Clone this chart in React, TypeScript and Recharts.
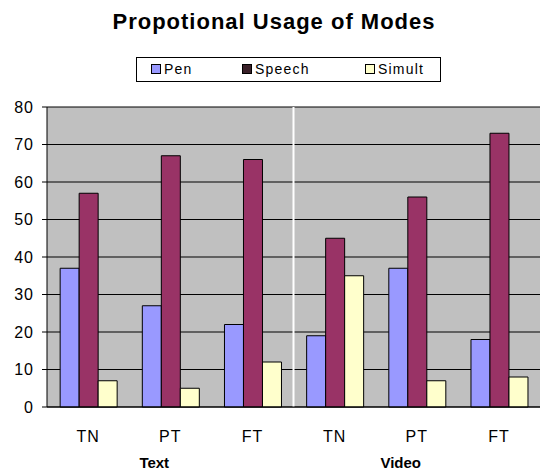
import { BarChart, Bar, XAxis, YAxis, CartesianGrid, ReferenceLine } from "recharts";

const categories = ["TN", "PT", "FT", "TN", "PT", "FT"];
const groups = ["Text", "Video"];
const pen = [37, 27, 22, 19, 37, 18];
const speech = [57, 67, 66, 45, 56, 73];
const simult = [7, 5, 12, 35, 7, 8];
const yTicks = [0, 10, 20, 30, 40, 50, 60, 70, 80];

const series = [
  { key: "pen", name: "Pen", color: "#9999FF" },
  { key: "speech", name: "Speech", color: "#993366" },
  { key: "simult", name: "Simult", color: "#FFFFCC" },
];

const data = categories.map((c, i) => ({
  id: `${groups[i < 3 ? 0 : 1]}-${c}`,
  cat: c,
  pen: pen[i],
  speech: speech[i],
  simult: simult[i],
}));

const FONT = "'Liberation Sans', Arial, sans-serif";

export default function App() {
  return (
    <div
      style={{
        position: "absolute",
        left: 0,
        top: 0,
        width: 540,
        height: 472,
        background: "#fff",
        fontFamily: FONT,
        overflow: "hidden",
      }}
    >
      <div
        style={{
          position: "absolute",
          top: 9,
          left: 0,
          width: 548,
          textAlign: "center",
          fontWeight: "bold",
          fontSize: 22,
          letterSpacing: 1,
        }}
      >
        Propotional Usage of Modes
      </div>
      <div
        style={{
          position: "absolute",
          top: 57,
          left: 136,
          width: 305,
          height: 25,
          border: "1px solid #000",
          boxSizing: "border-box",
          fontSize: 14,
        }}
      >
        {series.map((s, i) => (
          <div
            key={s.key}
            style={{
              position: "absolute",
              left: [14, 105, 228][i],
              top: 3,
              display: "flex",
              alignItems: "center",
              letterSpacing: 1.2,
            }}
          >
            <span
              style={{
                display: "inline-block",
                width: 8,
                height: 8,
                background: i === 1 ? "#3a2028" : s.color,
                border: "1px solid #000",
                marginRight: 3,
              }}
            />
            {s.name}
          </div>
        ))}
      </div>
      <div style={{ position: "absolute", left: 0, top: 0 }}>
        <BarChart
          width={540}
          height={472}
          data={data}
          margin={{ top: 107, right: 0, left: 7, bottom: 0 }}
          barCategoryGap="16%"
          barGap={0}
        >
          <CartesianGrid
            vertical={false}
            stroke="#000"
            fill="#C0C0C0"
            fillOpacity={1}
          />
          <YAxis
            domain={[0, 80]}
            ticks={yTicks}
            width={40}
            interval={0}
            tick={{ fontSize: 16, fill: "#000", fontFamily: FONT, letterSpacing: 1 }}
            tickLine={{ stroke: "#000" }}
            axisLine={{ stroke: "#000" }}
            tickSize={5}
            tickMargin={8}
          />
          <XAxis
            dataKey="id"
            tickFormatter={(_v: string, i: number) => categories[i]}
            interval={0}
            height={40}
            tick={{ fontSize: 16, fill: "#000", fontFamily: FONT, letterSpacing: 1 }}
            tickLine={false}
            axisLine={{ stroke: "#000" }}
            tickMargin={18}
          />
          <XAxis
            xAxisId="group"
            dataKey="id"
            ticks={["Text-PT", "Video-PT"]}
            interval={0}
            tickFormatter={(v: string) => v.split("-")[0]}
            height={25}
            tick={{ fontSize: 15, fill: "#000", fontWeight: "bold", fontFamily: FONT, dx: -16 }}
            tickLine={false}
            axisLine={false}
            tickMargin={4}
          />
          <ReferenceLine x="Text-FT" position="end" stroke="#fff" strokeWidth={2} />
          {series.map((s) => (
            <Bar
              key={s.key}
              dataKey={s.key}
              name={s.name}
              fill={s.color}
              stroke="#000"
              strokeWidth={1}
              isAnimationActive={false}
            />
          ))}
        </BarChart>
      </div>
    </div>
  );
}
